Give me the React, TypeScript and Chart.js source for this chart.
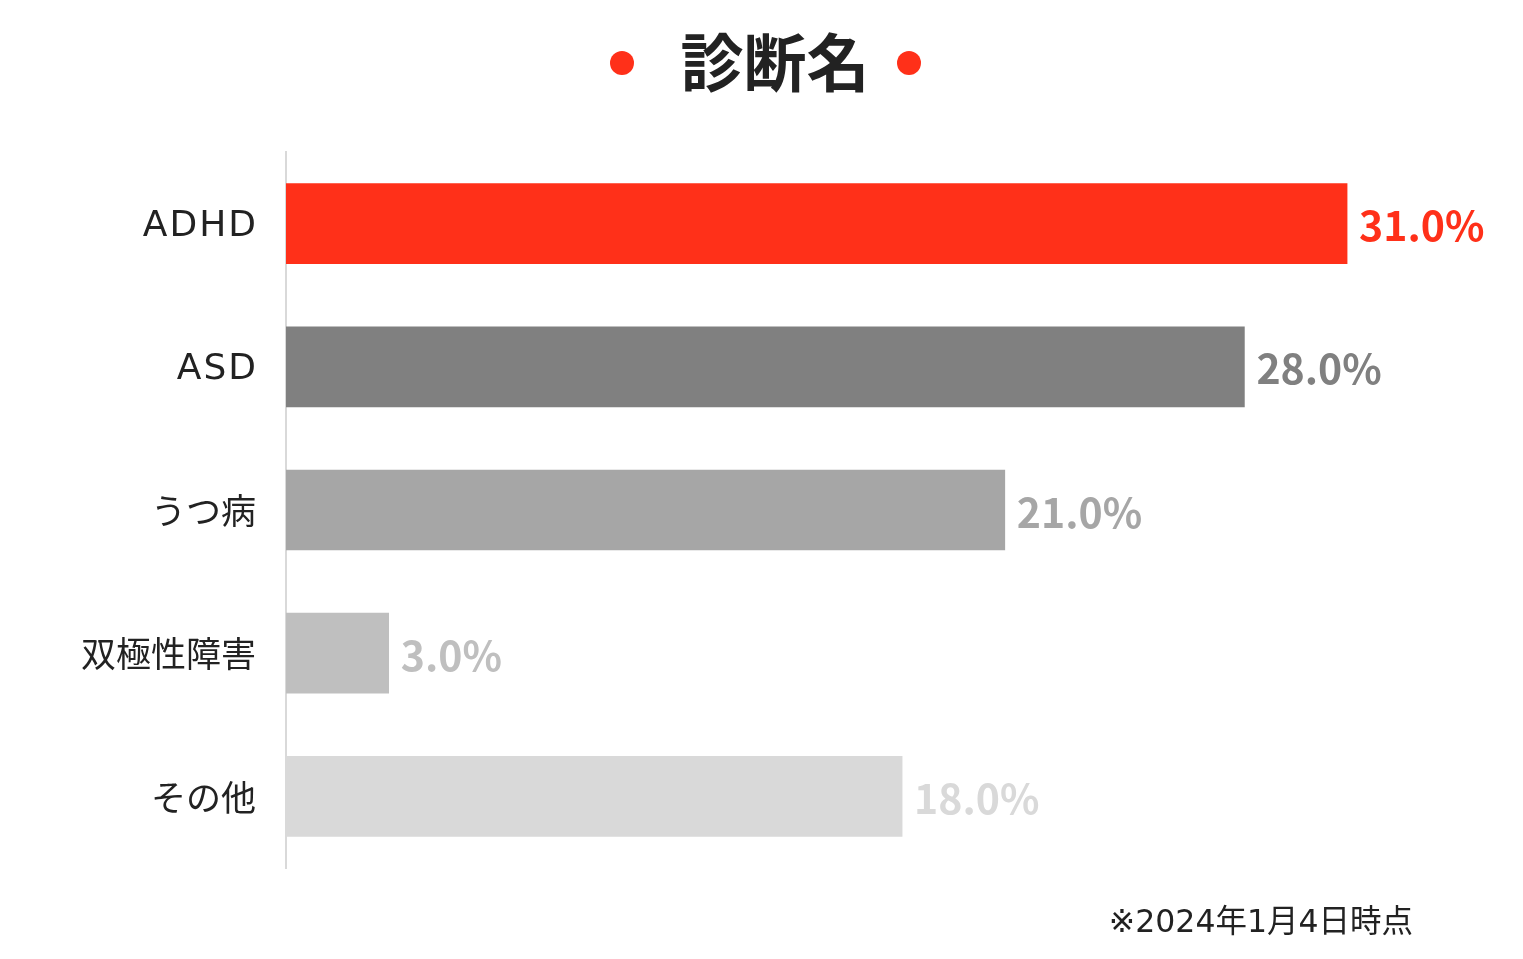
import React, { useEffect, useRef } from "react";
import { Chart, registerables } from "chart.js";

Chart.register(...registerables);

const categories = ["ADHD", "ASD", "うつ病", "双極性障害", "その他"];
const values = [31.0, 28.0, 21.0, 3.0, 18.0];
const barColors = ["#FF3019", "#808080", "#A6A6A6", "#BFBFBF", "#D9D9D9"];
const titleText = "診断名";
const footnoteText = "※2024年1月4日時点";

const W = 1523;
const H = 959;
const JP = '"Noto Sans CJK JP", "Noto Sans", sans-serif';
const MIXED = '"DejaVu Sans", "Noto Sans CJK JP", sans-serif';

const overlayPlugin = {
  id: "overlay",
  afterDatasetsDraw(chart: any) {
    const ctx = chart.ctx;
    ctx.save();
    // category labels
    const yScale = chart.scales.y;
    categories.forEach((c, i) => {
      const isLatin = /^[A-Za-z]+$/.test(c);
      ctx.font = isLatin ? `36px "DejaVu Sans", sans-serif` : `35px ${JP}`;
      (ctx as any).letterSpacing = isLatin ? "2px" : "0px";
      ctx.fillStyle = "#222222";
      ctx.textAlign = "right";
      ctx.textBaseline = "middle";
      ctx.fillText(c, isLatin ? 258 : 256, yScale.getPixelForTick(i) + (isLatin ? 3 : 1));
    });
    (ctx as any).letterSpacing = "0px";
    // data labels
    const meta = chart.getDatasetMeta(0);
    meta.data.forEach((bar: any, i: number) => {
      ctx.font = `bold 41px ${JP}`;
      ctx.fillStyle = barColors[i];
      ctx.textAlign = "left";
      ctx.textBaseline = "middle";
      ctx.fillText(values[i].toFixed(1) + "%", bar.x + 12, bar.y + 2);
    });
    // title
    ctx.font = `bold 63px ${JP}`;
    ctx.fillStyle = "#222222";
    ctx.textAlign = "center";
    ctx.textBaseline = "middle";
    ctx.fillText(titleText, 775, 62);
    ctx.fillStyle = "#FF3019";
    [622, 909].forEach((cx) => {
      ctx.beginPath();
      ctx.arc(cx, 63, 12, 0, Math.PI * 2);
      ctx.fill();
    });
    // footnote
    ctx.font = `31.5px ${MIXED}`;
    ctx.fillStyle = "#222222";
    ctx.textAlign = "right";
    ctx.textBaseline = "middle";
    ctx.fillText(footnoteText, 1413, 924);
    ctx.restore();
  },
};

export default function App() {
  const ref = useRef<HTMLCanvasElement | null>(null);
  useEffect(() => {
    if (!ref.current) return;
    const chart = new Chart(ref.current, {
      type: "bar",
      data: {
        labels: categories,
        datasets: [
          {
            data: values,
            backgroundColor: barColors,
            barThickness: 80,
            borderWidth: 0,
          },
        ],
      },
      options: {
        indexAxis: "y",
        responsive: false,
        animation: false,
        devicePixelRatio: 1,
        layout: { padding: { top: 152, bottom: 91, right: 39, left: 0 } },
        plugins: {
          legend: { display: false },
          tooltip: { enabled: false },
          title: { display: false },
        },
        scales: {
          x: {
            display: false,
            min: 0,
            max: 35,
          },
          y: {
            afterFit: (scale: any) => {
              scale.width = 286;
            },
            grid: { display: false, drawTicks: false },
            border: { display: true, color: "#D9D9D9", width: 2 },
            ticks: { display: false },
          },
        },
      },
      plugins: [overlayPlugin],
    });
    return () => chart.destroy();
  }, []);
  return (
    <div style={{ position: "fixed", left: 0, top: 0, width: W, height: H, background: "#fff" }}>
      <canvas ref={ref} width={W} height={H} style={{ display: "block" }} />
    </div>
  );
}
